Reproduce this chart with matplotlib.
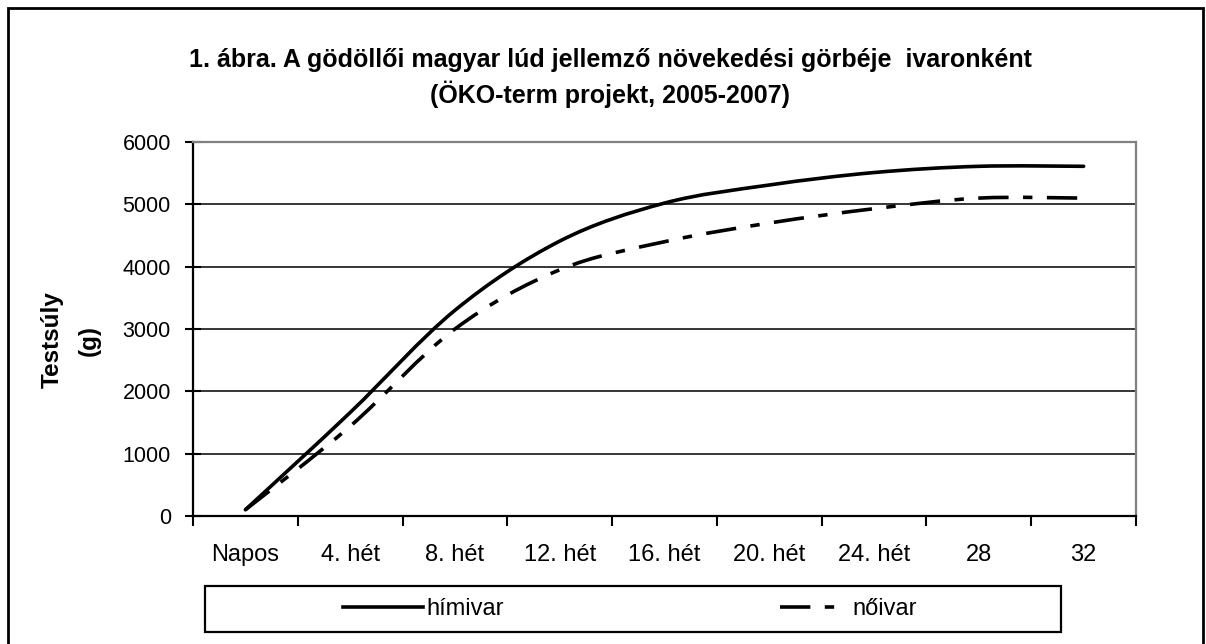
import numpy as np
import matplotlib.pyplot as plt
from matplotlib.path import Path
from matplotlib.patches import PathPatch, Rectangle
from matplotlib.lines import Line2D

plt.rcParams['font.family'] = ['Liberation Sans', 'DejaVu Sans']

# data (g), nine time points
x_labels = ['Napos', '4. hét', '8. hét', '12. hét', '16. hét', '20. hét', '24. hét', '28', '32']
himivar = [100, 1660, 3300, 4410, 5020, 5310, 5510, 5610, 5610]
noivar = [100, 1440, 3000, 3950, 4400, 4700, 4930, 5100, 5100]
y_ticks = [0, 1000, 2000, 3000, 4000, 5000, 6000]

title1 = '1. ábra. A gödöllői magyar lúd jellemző növekedési görbéje  ivaronként'
title2 = '(ÖKO-term projekt, 2005-2007)'


def smooth_path(xs, ys):
    # Excel-like smoothed line: cubic Bezier segments (Catmull-Rom control points)
    pts = np.column_stack([xs, ys]).astype(float)
    ext = np.vstack([pts[0], pts, pts[-1]])
    verts = [pts[0]]
    codes = [Path.MOVETO]
    for i in range(len(pts) - 1):
        p0, p1, p2, p3 = ext[i], ext[i + 1], ext[i + 2], ext[i + 3]
        c1 = p1 + (p2 - p0) / 6.0
        c2 = p2 - (p3 - p1) / 6.0
        verts += [c1, c2, p2]
        codes += [Path.CURVE4] * 3
    return Path(verts, codes)


fig = plt.figure(figsize=(12.06, 6.44), dpi=100)
ax = fig.add_axes([193 / 1206, 1 - 516 / 644, (1136 - 193) / 1206, (516 - 142) / 644])

x = np.arange(len(himivar))
dash = (0, (8.4, 4.0, 2.6, 4.0))

ax.hlines(y_ticks[1:-1], -0.5, len(x) - 0.5, color='black', lw=1.1, zorder=1)

ax.add_patch(PathPatch(smooth_path(x, himivar), fill=False, edgecolor='black',
                       lw=2.6, capstyle='round', joinstyle='round', zorder=3))
ax.add_patch(PathPatch(smooth_path(x, noivar), fill=False, edgecolor='black',
                       lw=2.6, linestyle=dash, capstyle='butt', zorder=3))

ax.set_xlim(-0.5, len(x) - 0.5)
ax.set_ylim(0, 6000)

# labels centred on categories, tick marks between them
ax.set_xticks(x)
ax.set_xticklabels(x_labels)
ax.set_xticks(np.arange(-0.5, len(x)), minor=True)
ax.xaxis.remove_overlapping_locs = False
ax.tick_params(axis='x', which='major', length=0, pad=20, labelsize=17)
ax.tick_params(axis='x', which='minor', direction='out', length=7, width=1.5, color='black')

ax.set_yticks(y_ticks)
ax.set_yticklabels([str(v) for v in y_ticks])
ax.tick_params(axis='y', direction='inout', length=12, width=1.5, pad=10, labelsize=15.5)

ax.spines['left'].set_linewidth(1.6)
ax.spines['bottom'].set_linewidth(1.6)
ax.spines['top'].set_color('#808080')
ax.spines['right'].set_color('#808080')
ax.spines['top'].set_linewidth(1.6)
ax.spines['right'].set_linewidth(1.6)

fig.text(610 / 1206, 1 - 60 / 644, title1, ha='center', va='center', fontsize=18, fontweight='bold')
fig.text(610 / 1206, 1 - 94 / 644, title2, ha='center', va='center', fontsize=18, fontweight='bold')

fig.text(52 / 1206, 1 - 340 / 644, 'Testsúly', rotation=90, ha='center', va='center',
         fontsize=17.5, fontweight='bold')
fig.text(89 / 1206, 1 - 340 / 644, '(g)', rotation=90, ha='center', va='center',
         fontsize=17.5, fontweight='bold')

# legend box
fig.patches.append(Rectangle((205 / 1206, 1 - 632 / 644), (1061 - 205) / 1206, 46 / 644,
                             transform=fig.transFigure, fill=False, edgecolor='black', lw=1.6))
h1 = Line2D([], [], color='black', lw=2.6)
h2 = Line2D([], [], color='black', lw=2.6, linestyle=dash)
for h, lab, xpos, hl in [(h1, 'hímivar', 343, 3.4), (h2, 'nőivar', 780, 2.9)]:
    fig.legend(handles=[h], labels=[lab], loc='center left',
               bbox_to_anchor=(xpos / 1206, 1 - 609 / 644), frameon=False,
               borderpad=0, borderaxespad=0, handlelength=hl, handletextpad=0.15,
               fontsize=17)

# outer chart border
fig.patches.append(Rectangle((8 / 1206, -0.05), (1203 - 8) / 1206, 1.05 - 8 / 644,
                             transform=fig.transFigure, fill=False, edgecolor='black', lw=2))

fig.savefig('out.png', dpi=100)
